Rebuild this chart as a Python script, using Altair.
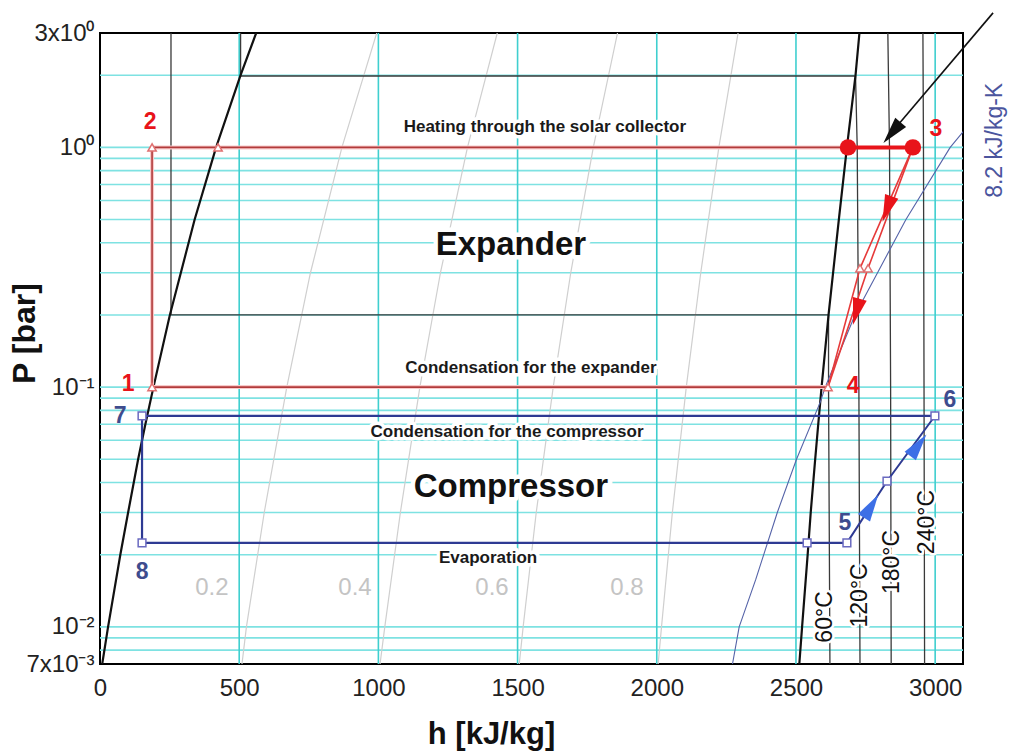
import altair as alt
import pandas as pd

# ---------------- axes / grid ----------------
H_DOMAIN = [0, 3100]
P_DOMAIN = [0.007, 3]
x_tick_values = [0, 500, 1000, 1500, 2000, 2500, 3000]
y_tick_values = [0.007, 0.01, 0.1, 1, 3]
y_tick_labels = ["7x10⁻³", "10⁻²", "10⁻¹", "10⁰", "3x10⁰"]
h_grid = [500, 1000, 1500, 2000, 2500, 3000]
p_grid = [0.008, 0.009, 0.01, 0.02, 0.03, 0.04, 0.05, 0.06, 0.07, 0.08, 0.09,
          0.1, 0.2, 0.3, 0.4, 0.5, 0.6, 0.7, 0.8, 0.9, 1, 2]

# ---------------- saturation dome ----------------
sat_P = [0.007, 0.01, 0.02, 0.03, 0.05, 0.07, 0.1, 0.2, 0.5, 1.0, 2.0, 3.0]
sat_liq_h = [8, 29, 73, 101, 137, 163, 192, 251, 340, 417, 505, 561]
sat_vap_h = [2512, 2522, 2542, 2553, 2569, 2580, 2592, 2617, 2654, 2683, 2714, 2728]

# ---------------- quality lines ----------------
q_P = [3.0, 1.0, 0.3, 0.1, 0.03, 0.01, 0.007]
q02_h = [994, 869, 756, 671, 590, 526, 510]
q04_h = [1427, 1320, 1223, 1149, 1079, 1023, 1006]
q06_h = [1859, 1772, 1691, 1628, 1567, 1520, 1506]
q08_h = [2292, 2223, 2158, 2106, 2056, 2017, 2005]

# ---------------- isotherms ----------------
t60_h = [255, 255, 2617, 2617, 2622]
t60_P = [3, 0.2, 0.2, 0.1, 0.007]
t120_h = [505, 505, 2714, 2720, 2726, 2730]
t120_P = [3, 1.985, 1.985, 1.0, 0.1, 0.007]
t180_h = [2830, 2836, 2840, 2842]
t180_P = [3, 1.0, 0.1, 0.007]
t240_h = [2956, 2958, 2960, 2962]
t240_P = [3, 1.0, 0.1, 0.007]

# ---------------- isentrope 8.2 kJ/kg-K ----------------
s82_P = [0.007, 0.01, 0.0157, 0.03, 0.05, 0.087, 0.1, 0.2, 0.5, 1.0, 1.2]
s82_h = [2272, 2296, 2355, 2433, 2502, 2588, 2605, 2712, 2895, 3054, 3110]

# ---------------- expander cycle (red) ----------------
red_thin_h = [2615, 187, 187, 2687]
red_thin_P = [0.1, 0.1, 1.0, 1.0]
red_heat_h = [2687, 2920]
red_heat_P = [1.0, 1.0]
red_expA_h = [2920, 2730, 2615]
red_expB_h = [2920, 2759, 2615]
red_exp_P = [1.0, 0.313, 0.1]
red_tri_h = [187, 187, 424, 2615, 2730, 2759]
red_tri_P = [0.1, 1.0, 1.0, 0.1, 0.313, 0.313]
red_dot_h = [2687, 2920]
red_dot_P = [1.0, 1.0]
red_arrow_h = [2830, 2719]
red_arrow_P = [0.564, 0.210]
red_arrow_a = [200, 195]

# ---------------- compressor cycle (blue) ----------------
blue_main_h = [2683, 151, 151, 2999]
blue_main_P = [0.0224, 0.0224, 0.0758, 0.0758]
blue_comp_h = [2683, 2827, 2999]
blue_comp_P = [0.0224, 0.0405, 0.0758]
blue_sq_h = [151, 151, 2540, 2683, 2827, 2999]
blue_sq_P = [0.0758, 0.0224, 0.0224, 0.0224, 0.0405, 0.0758]
blue_arrow_h = [2766, 2935]
blue_arrow_P = [0.0313, 0.0563]
blue_arrow_a = [32, 37]

# ---------------- pointer arrow ----------------
ptr_h = [3208, 2845]
ptr_P = [3.64, 1.16]
ptr_head_h = [2850]
ptr_head_P = [1.17]
ptr_head_a = [220]

# ---------------- texts ----------------
ann_text = ["Heating through the solar collector", "Condensation for the expander",
            "Condensation for the compressor", "Evaporation"]
ann_h = [1598, 1548, 1462, 1394]
ann_P = [1.216, 0.1201, 0.0649, 0.01935]
big_text = ["Expander", "Compressor"]
big_h = [1476, 1476]
big_P = [0.392, 0.0383]
qual_text = ["0.2", "0.4", "0.6", "0.8"]
qual_h = [402, 916, 1408, 1893]
qual_P = [0.0145, 0.0145, 0.0145, 0.0145]
iso_text = ["60°C", "120°C", "180°C", "240°C"]
iso_h = [2604, 2730, 2845, 2971]
iso_P = [0.011, 0.01353, 0.01866, 0.02736]
red_num = ["1", "2", "3", "4"]
red_num_h = [101, 180, 3003, 2705]
red_num_P = [0.1031, 1.276, 1.19, 0.101]
blue_num = ["5", "6", "7", "8"]
blue_num_h = [2676, 3053, 72, 151]
blue_num_P = [0.0271, 0.0884, 0.0758, 0.0169]
s_label = ["8.2 kJ/kg-K"]
s_label_h = [3215]
s_label_P = [1.07]

FONT = "Liberation Sans"

# label expression for y ticks
expr = "''"
for v, lab in zip(y_tick_values, y_tick_labels):
    expr = f"abs(datum.value - {v}) < {v * 0.02} ? '{lab}' : " + expr

X_AXIS = alt.Axis(values=x_tick_values, format="d", title="h [kJ/kg]", grid=False, ticks=False,
                  domain=False, labelFont=FONT, labelFontSize=24, labelColor="#222222",
                  labelPadding=12, labelFlush=False, labelOverlap=False,
                  titleFont=FONT, titleFontSize=31, titleFontWeight="bold", titleColor="#111111",
                  titleX=391, titleY=70, titleAlign="center", titleBaseline="middle")
Y_AXIS = alt.Axis(values=y_tick_values, labelExpr=expr, title="P [bar]", grid=False, ticks=False,
                  domain=False, labelFont=FONT, labelFontSize=24, labelColor="#222222",
                  labelPadding=6, labelFlush=False, labelOverlap=False,
                  titleFont=FONT, titleFontSize=32, titleFontWeight="bold", titleColor="#111111",
                  titleAngle=270, titleX=-76, titleY=300, titleAlign="center",
                  titleBaseline="middle")


def X():
    return alt.X("h:Q", scale=alt.Scale(domain=H_DOMAIN, nice=False, zero=False), axis=X_AXIS)


def Y():
    return alt.Y("P:Q", scale=alt.Scale(type="log", domain=P_DOMAIN, nice=False), axis=Y_AXIS)


def paths(*series):
    frames = []
    for k, (hs, ps) in enumerate(series):
        frames.append(pd.DataFrame({"h": hs, "P": ps, "i": list(range(len(hs))), "s": k}))
    return pd.concat(frames, ignore_index=True)


def line(df, color, width, clip=True, opacity=1.0):
    return alt.Chart(df).mark_line(color=color, strokeWidth=width, clip=clip,
                                   opacity=opacity, strokeJoin="round").encode(
        x=X(), y=Y(), detail="s:N", order="i:Q")


def pts(hs, ps, extra=None):
    d = {"h": hs, "P": ps}
    if extra:
        d.update(extra)
    return pd.DataFrame(d)


def txt(texts, hs, ps):
    return pd.DataFrame({"h": hs, "P": ps, "t": texts})


hgrid = alt.Chart(pd.DataFrame({"P": p_grid})).mark_rule(
    color="#7EE2E2", strokeWidth=1.6).encode(y=Y())
vgrid = alt.Chart(pd.DataFrame({"h": h_grid})).mark_rule(
    color="#3FCFCF", strokeWidth=1.6).encode(x=X())

quality = line(paths((q02_h, q_P), (q04_h, q_P), (q06_h, q_P), (q08_h, q_P)), "#CFCFCF", 1.2)
isotherms = line(paths((t60_h, t60_P), (t120_h, t120_P), (t180_h, t180_P), (t240_h, t240_P)),
                 "#3A3A3A", 1.3)
dome = line(paths((sat_liq_h, sat_P), (sat_vap_h, sat_P)), "#111111", 2.2)
isentrope = line(paths((s82_h, s82_P)), "#5563A8", 1.1)


def text_layers(df, halo_w, **kw):
    base = alt.Chart(df).encode(x=X(), y=Y(), text="t:N")
    halo = base.mark_text(stroke="white", strokeWidth=halo_w, fill="white",
                          strokeJoin="round", **kw)
    front = base.mark_text(**kw)
    return halo, front


ann_halo, ann_front = text_layers(txt(ann_text, ann_h, ann_P), 7, font=FONT, fontSize=17,
                                  fontWeight="bold", color="#1A1A1A")
big_halo, big_front = text_layers(txt(big_text, big_h, big_P), 9, font=FONT, fontSize=33,
                                  fontWeight="bold", color="#111111")
q_halo, q_front = text_layers(txt(qual_text, qual_h, qual_P), 7, font=FONT, fontSize=24,
                              color="#C4C4C4")
iso_halo, iso_front = text_layers(txt(iso_text, iso_h, iso_P), 5, font=FONT, fontSize=23,
                                  color="#111111", angle=270)

red_thin_halo = line(paths((red_thin_h, red_thin_P)), "#F8CACA", 4)
red_thin = line(paths((red_thin_h, red_thin_P)), "#B23B3B", 1.6)
red_heat = line(paths((red_heat_h, red_heat_P)), "#E8141A", 4)
red_exp = line(paths((red_expA_h, red_exp_P), (red_expB_h, red_exp_P)), "#E63A3A", 1.6)
blue_main = line(paths((blue_main_h, blue_main_P)), "#2E3A93", 2.2)
blue_comp = line(paths((blue_comp_h, blue_comp_P)), "#2E3A93", 2.0)
pointer = line(paths((ptr_h, ptr_P)), "#111111", 1.6, clip=False)

ARROW = "M0,-1.1L0.5,0.8L-0.5,0.8Z"

red_tri = alt.Chart(pts(red_tri_h, red_tri_P)).mark_point(
    shape="triangle-up", size=70, filled=True, fill="white", stroke="#E07070",
    strokeWidth=1.5, opacity=1).encode(x=X(), y=Y())
red_dot = alt.Chart(pts(red_dot_h, red_dot_P)).mark_point(
    shape="circle", size=270, filled=True, color="#E8141A", opacity=1).encode(x=X(), y=Y())
red_arrow = alt.Chart(pts(red_arrow_h, red_arrow_P, {"a": red_arrow_a})).mark_point(
    shape=ARROW, size=800, filled=True, color="#E8141A", opacity=1).encode(
    x=X(), y=Y(), angle=alt.Angle("a:Q", scale=None))
blue_sq = alt.Chart(pts(blue_sq_h, blue_sq_P)).mark_point(
    shape="square", size=60, filled=True, fill="white", stroke="#6A6AC0",
    strokeWidth=1.5, opacity=1).encode(x=X(), y=Y())
blue_arrow = alt.Chart(pts(blue_arrow_h, blue_arrow_P, {"a": blue_arrow_a})).mark_point(
    shape=ARROW, size=800, filled=True, color="#3D6FE6", opacity=1).encode(
    x=X(), y=Y(), angle=alt.Angle("a:Q", scale=None))
ptr_head = alt.Chart(pts(ptr_head_h, ptr_head_P, {"a": ptr_head_a})).mark_point(
    shape=ARROW, size=800, filled=True, color="#111111", opacity=1).encode(
    x=X(), y=Y(), angle=alt.Angle("a:Q", scale=None))

red_nums = alt.Chart(txt(red_num, red_num_h, red_num_P)).mark_text(
    font=FONT, fontSize=23, fontWeight="bold", color="#E8141A").encode(x=X(), y=Y(), text="t:N")
blue_nums = alt.Chart(txt(blue_num, blue_num_h, blue_num_P)).mark_text(
    font=FONT, fontSize=23, fontWeight="bold", color="#3E4C8E").encode(x=X(), y=Y(), text="t:N")
s_text = alt.Chart(txt(s_label, s_label_h, s_label_P)).mark_text(
    font=FONT, fontSize=23, color="#4B559E", angle=270).encode(x=X(), y=Y(), text="t:N")

chart = alt.layer(
    hgrid, vgrid, quality, isotherms, dome, isentrope,
    ann_halo, big_halo, q_halo, iso_halo,
    ann_front, big_front, q_front, iso_front,
    red_thin_halo, red_thin, red_heat, red_exp, blue_main, blue_comp, pointer,
    red_tri, red_dot, red_arrow, blue_sq, blue_arrow, ptr_head,
    red_nums, blue_nums, s_text,
).properties(
    width=863, height=631,
    autosize=alt.AutoSizeParams(type="none"),
    padding={"left": 100, "top": 33, "right": 50, "bottom": 89},
    background="white",
).configure_view(stroke="#000000", strokeWidth=2)

chart.save("out.html", embed_options={"renderer": "svg", "actions": False})
